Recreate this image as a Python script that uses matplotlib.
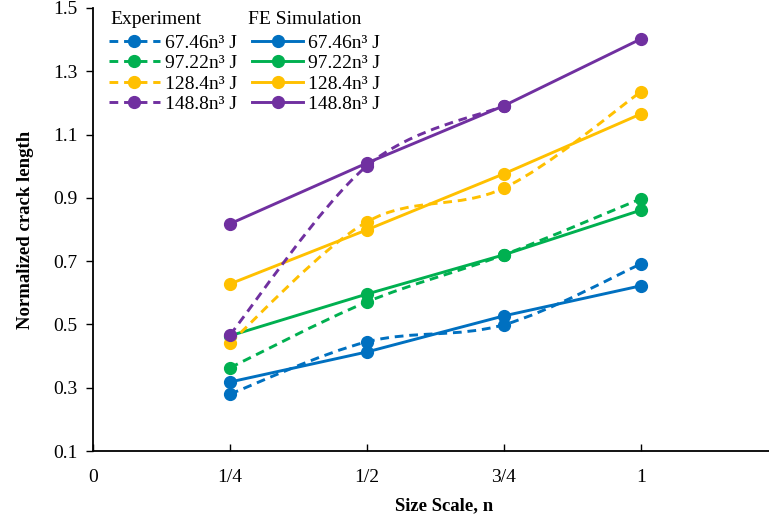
import matplotlib
matplotlib.use("Agg")
import matplotlib.pyplot as plt
from matplotlib.path import Path
from matplotlib.patches import PathPatch
from matplotlib.lines import Line2D

plt.rcParams['font.family'] = ['Liberation Serif', 'DejaVu Serif']
plt.rcParams['font.size'] = 14

# data
scale_exp = [0.25, 0.5, 0.75, 1.0]
exp_67 = [0.280, 0.445, 0.499, 0.691]
exp_97 = [0.363, 0.571, 0.720, 0.897]
exp_128 = [0.442, 0.824, 0.931, 1.235]
exp_148 = [0.467, 1.001, 1.191]          # no point at n = 1

scale_fe = [0.25, 0.5, 0.75, 1.0]
fe_67 = [0.318, 0.413, 0.527, 0.622]
fe_97 = [0.464, 0.596, 0.720, 0.861]
fe_128 = [0.628, 0.799, 0.976, 1.165]
fe_148 = [0.818, 1.010, 1.191, 1.402]

labels = ['67.46n³ J', '97.22n³ J', '128.4n³ J', '148.8n³ J']
colors = ['#0070C0', '#00B050', '#FFC000', '#7030A0']

xticks = [0, 0.25, 0.5, 0.75, 1.0]
xticklabels = ['0', '1/4', '1/2', '3/4', '1']
yticks = [0.1, 0.3, 0.5, 0.7, 0.9, 1.1, 1.3, 1.5]

lw = 2.1
ms = 8.5
dash = (0, (3, 2))


def smooth_path(x, y):
    # Excel-style smoothed line: cubic Bezier segments through the points
    pts = list(zip(x, y))
    verts = [pts[0]]
    codes = [Path.MOVETO]
    n = len(pts)
    for i in range(n - 1):
        p0 = pts[max(i - 1, 0)]
        p1 = pts[i]
        p2 = pts[i + 1]
        p3 = pts[min(i + 2, n - 1)]
        c1 = (p1[0] + (p2[0] - p0[0]) / 6, p1[1] + (p2[1] - p0[1]) / 6)
        c2 = (p2[0] - (p3[0] - p1[0]) / 6, p2[1] - (p3[1] - p1[1]) / 6)
        verts += [c1, c2, p2]
        codes += [Path.CURVE4] * 3
    return Path(verts, codes)


fig = plt.figure(figsize=(7.69, 5.19), dpi=100)
ax = fig.add_axes([93 / 769, 68 / 519, 676 / 769, 443 / 519])

exp_series = [exp_67, exp_97, exp_128, exp_148]
fe_series = [fe_67, fe_97, fe_128, fe_148]

for ys, c in zip(fe_series, colors):
    ax.plot(scale_fe, ys, '-o', color=c, lw=lw, ms=ms, zorder=3)

for ys, c in zip(exp_series, colors):
    xs = scale_exp[:len(ys)]
    ax.add_patch(PathPatch(smooth_path(xs, ys), fill=False, edgecolor=c,
                           lw=lw, linestyle=dash, zorder=3))
    ax.plot(xs, ys, 'o', color=c, ms=ms, zorder=4)

ax.set_xlim(0, 1.234)
ax.set_ylim(0.1, 1.5)
ax.set_xticks(xticks)
ax.set_xticklabels(xticklabels)
ax.set_yticks(yticks)
ax.set_yticklabels([f'{v:.1f}' for v in yticks])

for s in ['top', 'right']:
    ax.spines[s].set_visible(False)
for s in ['left', 'bottom']:
    ax.spines[s].set_linewidth(1.3)

ax.tick_params(axis='x', direction='in', length=5, width=1, pad=13, labelsize=14)
ax.tick_params(axis='y', direction='out', length=5, width=1, pad=6, labelsize=14)

ax.set_xlabel('Size Scale, n', fontweight='bold', fontsize=13.5)
ax.xaxis.set_label_coords(0.52, -0.105)
ax.set_ylabel('Normalized crack length', fontweight='bold', fontsize=13.5)
ax.yaxis.set_label_coords(-0.087, 0.5)

# legend: two columns, experiment (dashed) and FE simulation (solid)
handles = [Line2D([], [], color=c, lw=lw, ls=dash, marker='o', ms=ms) for c in colors]
handles += [Line2D([], [], color=c, lw=lw, ls='-', marker='o', ms=ms) for c in colors]
leg = ax.legend(handles, labels + labels, ncol=2, loc='upper left',
                bbox_to_anchor=(109 / 769, 1 - 34 / 519), bbox_transform=fig.transFigure,
                frameon=False, borderpad=0, borderaxespad=0, handlelength=2.6,
                handletextpad=0.26, columnspacing=0.8, labelspacing=0.15, fontsize=14)
fig.text(110 / 769, 1 - 19 / 519, 'Experiment', va='center', ha='left', fontsize=14)
fig.text(248 / 769, 1 - 19 / 519, 'FE Simulation', va='center', ha='left', fontsize=14)

fig.savefig('out.png', dpi=100)
